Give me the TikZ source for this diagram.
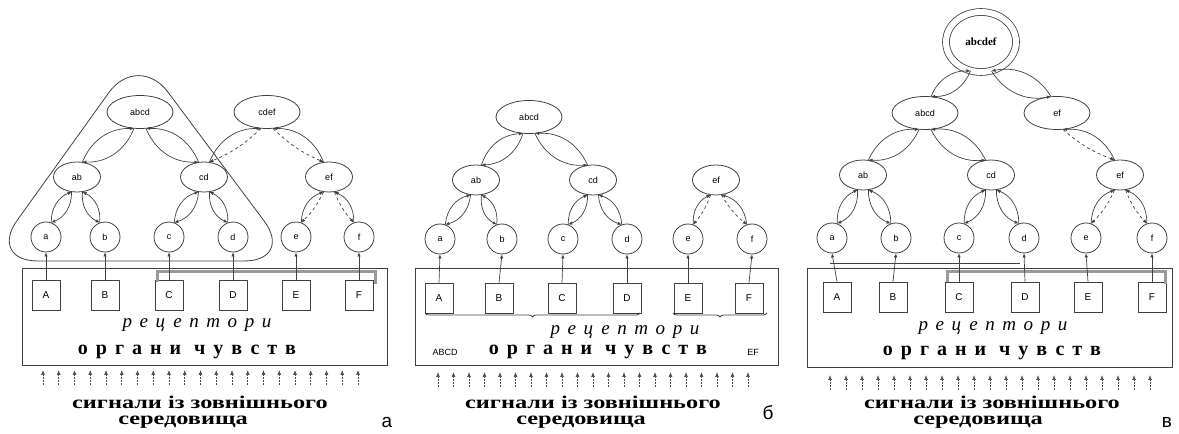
\documentclass[tikz,border=0pt]{standalone}
\usepackage{fontspec}
\usepackage{graphicx}
\setmainfont{Liberation Serif}
\setsansfont{Liberation Sans}
\usetikzlibrary{shapes.geometric, arrows.meta, decorations.pathreplacing}

\begin{document}
\begin{tikzpicture}[x=1pt, y=1pt,
    unit/.style={ellipse, draw=black!75, line width=0.8pt, minimum width=47, minimum height=30, inner sep=0pt, font=\sffamily\fontsize{9}{9}\selectfont},
    bigunit/.style={unit, minimum width=66, minimum height=33},
    cell/.style={circle, draw=black!75, line width=0.8pt, minimum size=30, inner sep=0pt, font=\sffamily\fontsize{9}{9}\selectfont},
    sensor/.style={rectangle, draw=black!75, line width=0.8pt, minimum width=28, minimum height=30, inner sep=0pt, font=\sffamily\fontsize{10}{10}\selectfont},
    link/.style={draw=black!75, line width=0.7pt, -{Latex[length=4pt, width=3.5pt]}},
    weak/.style={link, dashed},
    frame/.style={draw=black!75, line width=0.8pt},
    band/.style={draw=black!40, line width=3pt},
    signal/.style={draw=black!70, line width=0.7pt, dash pattern=on 2pt off 1pt, -{Latex[length=5pt, width=4pt]}},
    rectext/.style={font=\itshape\fontsize{19}{19}\selectfont\addfontfeatures{LetterSpace=40}},
    orgtext/.style={font=\bfseries\fontsize{20}{20}\selectfont\addfontfeatures{LetterSpace=40}},
    sigtext/.style={font=\bfseries\fontsize{18}{18}\selectfont, inner sep=0pt},
    panel/.style={font=\sffamily\fontsize{19}{19}\selectfont}]
\useasboundingbox (0,0) rectangle (1179,434);

% --- panel a ---
\node[bigunit] (abcd1) at (140,322) {abcd};
\node[bigunit] (cdef1) at (267,322) {cdef};
\node[unit] (ab1) at (77,257) {ab};
\node[unit] (cd1) at (204,257) {cd};
\node[unit] (ef1) at (329,257) {ef};
\foreach \n/\x in {a/46, b/105, c/169, d/233, e/296, f/359} {
    \node[cell] (\n1) at (\x,197) {\n};
}
\foreach \n/\x in {A/46, B/105, C/169, D/233, E/296, F/359} {
    \node[sensor] (\n1) at (\x,139) {\n};
}
% envelope of abcd
\draw[frame, rounded corners=50pt] (138,382) -- (-12,173) -- (294,173) -- cycle;
\draw[band] (157,152) -- (157,162) -- (375,162) -- (375,150);
\draw[frame] (22,166) rectangle (387,69);

% --- panel b ---
\node[bigunit] (abcd2) at (529,317) {abcd};
\node[unit] (ab2) at (476,254) {ab};
\node[unit] (cd2) at (593,254) {cd};
\node[unit] (ef2) at (716,254) {ef};
\foreach \n/\x in {a/440, b/502, c/563, d/627, e/688, f/752} {
    \node[cell] (\n2) at (\x,195) {\n};
}
\foreach \n/\x in {A/439, B/499, C/562, D/627, E/688, F/749} {
    \node[sensor] (\n2) at (\x,136) {\n};
}
\draw[frame] (415,166) rectangle (778,69);
\draw[frame, decorate, decoration={brace, mirror, amplitude=4pt}] (425,121) -- (640,121);
\draw[frame, decorate, decoration={brace, mirror, amplitude=4pt}] (673,121) -- (767,121);

% --- panel c ---
\node[bigunit, double, double distance=6pt, minimum width=70, minimum height=60, font=\bfseries\fontsize{11}{11}\selectfont] (abcdef3) at (981,392) {abcdef};
\node[bigunit] (abcd3) at (925,321) {abcd};
\node[bigunit] (ef3u) at (1057,321) {ef};
\node[unit] (ab3) at (863,259) {ab};
\node[unit] (cd3) at (991,259) {cd};
\node[unit] (ef3) at (1120,259) {ef};
\foreach \n/\x in {a/832, b/896, c/959, d/1024, e/1086, f/1152} {
    \node[cell] (\n3) at (\x,196) {\n};
}
\foreach \n/\x in {A/837, B/893, C/959, D/1025, E/1088, F/1152} {
    \node[sensor] (\n3) at (\x,137) {\n};
}
\draw[frame] (830,171) -- (1020,171);
\draw[band] (947,152) -- (947,162) -- (1165,162) -- (1165,150);
\draw[frame] (807,166) rectangle (1172,67);

% sensors to cells
\foreach \k in {1,2,3} {
    \foreach \n/\m in {A/a, B/b, C/c, D/d, E/e, F/f} {
        \draw[link] (\n\k.north) -- (\m\k.south);
    }
}

% two-way links, child left of parent
\foreach \c/\p in {a1/ab1, c1/cd1, ab1/abcd1, a2/ab2, c2/cd2, ab2/abcd2,
                   a3/ab3, c3/cd3, ab3/abcd3, abcd3/abcdef3} {
    \draw[link] (\c.70) to[bend left=35] (\p.250);
    \draw[link] (\p.250) to[bend left=35] (\c.70);
}
% two-way links, child right of parent
\foreach \c/\p in {b1/ab1, d1/cd1, cd1/abcd1, b2/ab2, d2/cd2, cd2/abcd2,
                   b3/ab3, d3/cd3, cd3/abcd3, ef3u/abcdef3} {
    \draw[link] (\c.110) to[bend right=35] (\p.290);
    \draw[link] (\p.290) to[bend right=35] (\c.110);
}
% half-dashed links
\foreach \c/\p in {cd1/cdef1, e1/ef1, e2/ef2, e3/ef3} {
    \draw[link] (\c.70) to[bend left=35] (\p.250);
    \draw[weak] (\p.250) to[bend left=10] (\c.70);
}
\foreach \c/\p in {ef1/cdef1, f1/ef1, f2/ef2, f3/ef3, ef3/ef3u} {
    \draw[link] (\c.110) to[bend right=35] (\p.290);
    \draw[weak] (\p.290) to[bend right=10] (\c.110);
}

% signals from outside
\foreach \i in {0,...,20} {
    \draw[signal] (43+\i*15.75,49) -- (43+\i*15.75,64);
    \draw[signal] (438+\i*15.5,47) -- (438+\i*15.5,62);
    \draw[signal] (830+\i*16,44) -- (830+\i*16,59);
}

% texts
\node[rectext] (rec1) at (197,109) {рецептори};
\node[orgtext] (org1) at (187,82) {органи чувств};
\node[sigtext] (sig1) at (200,32) {\scalebox{1.35}[1]{сигнали із зовнішнього}};
\node[sigtext] (med1) at (183,12) {\scalebox{1.35}[1]{середовища}};
\node[panel] (la) at (387,12) {а};

\node[rectext] (rec2) at (625,102) {рецептори};
\node[orgtext] (org2) at (598,82) {органи чувств};
\node[font=\sffamily\fontsize{9}{9}\selectfont] (grp2a) at (445,82) {ABCD};
\node[font=\sffamily\fontsize{9}{9}\selectfont] (grp2b) at (753,82) {EF};
\node[sigtext] (sig2) at (593,32) {\scalebox{1.35}[1]{сигнали із зовнішнього}};
\node[sigtext] (med2) at (581,12) {\scalebox{1.35}[1]{середовища}};
\node[panel] (lb) at (768,21) {б};

\node[rectext] (rec3) at (993,106) {рецептори};
\node[orgtext] (org3) at (992,81) {органи чувств};
\node[sigtext] (sig3) at (992,32) {\scalebox{1.35}[1]{сигнали із зовнішнього}};
\node[sigtext] (med3) at (978,12) {\scalebox{1.35}[1]{середовища}};
\node[panel] (lc) at (1167,12) {в};
\end{tikzpicture}
\end{document}
